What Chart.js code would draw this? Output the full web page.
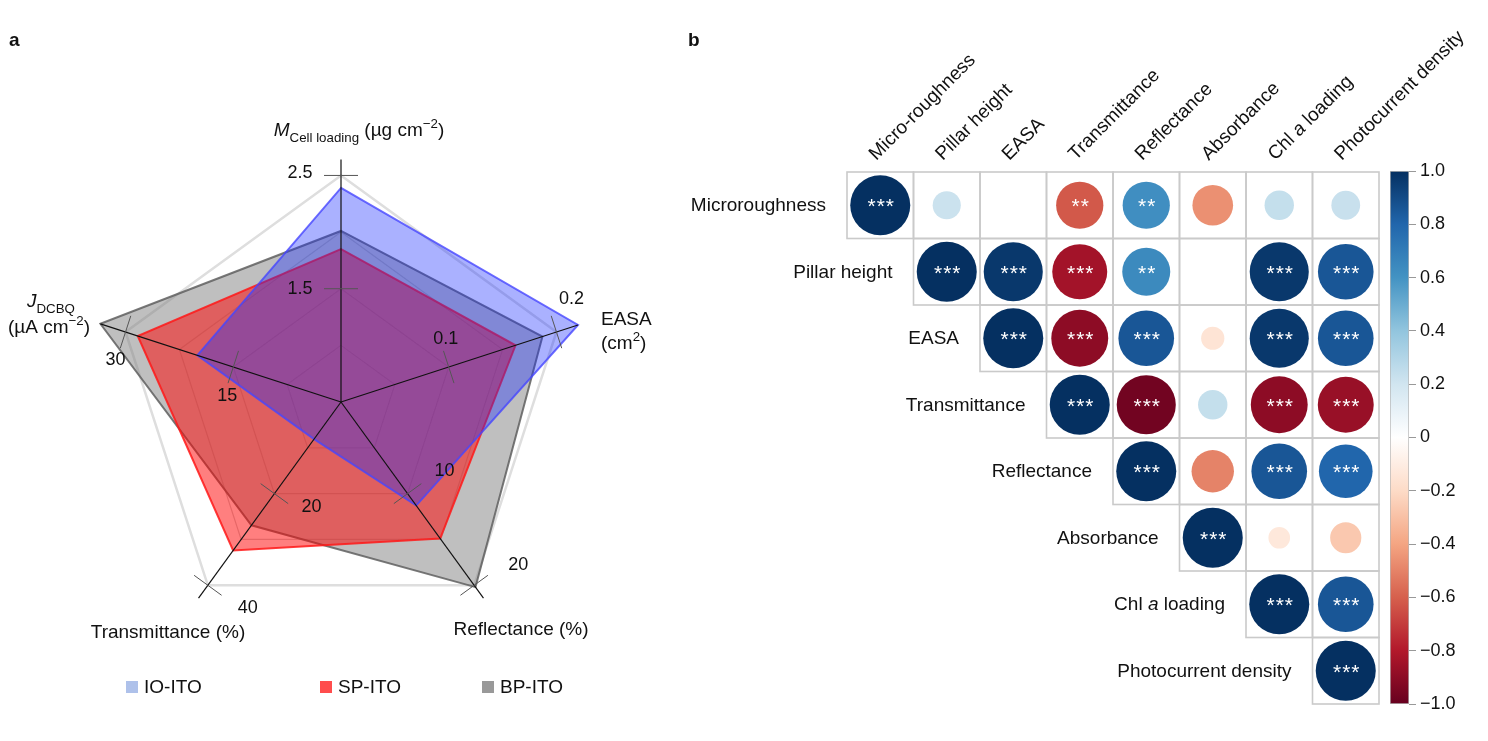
<!DOCTYPE html>
<html>
<head>
<meta charset="utf-8">
<script src="https://cdn.jsdelivr.net/npm/chart.js@4.4.1/dist/chart.umd.min.js"></script>
<style>
  html, body { margin: 0; padding: 0; background: #fff; }
  #wrap { position: relative; width: 1488px; height: 741px; overflow: hidden; }
  canvas { position: absolute; }
</style>
</head>
<body>
<div id="wrap">
  <canvas id="radar" width="680" height="741" style="left:0;top:0"></canvas>
  <canvas id="corr" width="808" height="741" style="left:680px;top:0"></canvas>
  <canvas id="cbar" width="108" height="580" style="left:1380px;top:150px"></canvas>
</div>
<script>
const FONT = '"Liberation Sans", Arial, sans-serif';
const TXT = 19;

// ---- panel a data ----
const radarAxes = ["Mcell", "EASA", "Reflectance", "Transmittance", "JDCBQ"];
const axisMin = [0.5, 0, 0, 0, 0];
const axisMax = [2.5, 0.2, 20, 40, 30];
const axisTicks = [[1.5, 2.5], [0.1, 0.2], [10, 20], [20, 40], [15, 30]];
const seriesNames = ["IO-ITO", "SP-ITO", "BP-ITO"];
const ioIto = [2.39, 0.22, 11.3, 8.1, 20.0];
const spIto = [1.85, 0.162, 14.9, 32.4, 28.3];
const bpIto = [2.01, 0.187, 20.2, 26.9, 33.5];

// ---- panel b data ----
const rowLabels = ["Microroughness", "Pillar height", "EASA", "Transmittance", "Reflectance", "Absorbance", "Chl a loading", "Photocurrent density"];
const colLabels = ["Micro-roughness", "Pillar height", "EASA", "Transmittance", "Reflectance", "Absorbance", "Chl a loading", "Photocurrent density"];
// upper triangle, each row starts at the diagonal
const corrRows = [
  [1, 0.22, 0, -0.62, 0.62, -0.46, 0.24, 0.23],
  [1, 0.97, -0.84, 0.64, 0, 0.97, 0.86],
  [1, -0.9, 0.86, -0.15, 0.97, 0.86],
  [1, -0.97, 0.24, -0.9, -0.87],
  [1, -0.5, 0.86, 0.8],
  [1, -0.13, -0.27],
  [1, 0.86],
  [1]
];
const corrStars = [
  ["***", "", "", "**", "**", "", "", ""],
  ["***", "***", "***", "**", "", "***", "***"],
  ["***", "***", "***", "", "***", "***"],
  ["***", "***", "", "***", "***"],
  ["***", "", "***", "***"],
  ["***", "", ""],
  ["***", "***"],
  ["***"]
];

const rdbuStops = ["#67001F", "#B2182B", "#D6604D", "#F4A582", "#FDDBC7", "#FFFFFF", "#D1E5F0", "#92C5DE", "#4393C3", "#2166AC", "#053061"];
const MAX_R = 30; // radius of a |r| = 1 circle, px

function hexRgb(h) {
  return [1, 3, 5].map(i => parseInt(h.substr(i, 2), 16));
}

function rdbu(v) {
  const t = (Math.max(-1, Math.min(1, v)) + 1) / 2 * 10;
  const i = Math.min(9, Math.floor(t));
  const f = t - i;
  const a = hexRgb(rdbuStops[i]);
  const b = hexRgb(rdbuStops[i + 1]);
  const c = a.map((x, k) => Math.round(x + (b[k] - x) * f));
  return "rgb(" + c.join(",") + ")";
}

// text with italic / sub / sup pieces
function rich(ctx, x, y, segs, size, align) {
  const fontFor = k => (k === "i" ? "italic " : "") + ((k === "sub" || k === "sup") ? size * 0.7 : size) + "px " + FONT;
  let w = 0;
  segs.forEach(s => { ctx.font = fontFor(s[1]); w += ctx.measureText(s[0]).width; });
  let cx = align === "center" ? x - w / 2 : (align === "right" ? x - w : x);
  ctx.textAlign = "left";
  ctx.textBaseline = "alphabetic";
  segs.forEach(s => {
    ctx.font = fontFor(s[1]);
    const dy = s[1] === "sub" ? size * 0.3 : (s[1] === "sup" ? -size * 0.42 : 0);
    ctx.fillText(s[0], cx, y + dy);
    cx += ctx.measureText(s[0]).width;
  });
}

function labelSegs(label) {
  const k = label.indexOf(" a ");
  if (k < 0) return [[label, "n"]];
  return [[label.slice(0, k + 1), "n"], ["a", "i"], [label.slice(k + 2), "n"]];
}

function norm(vals) {
  return vals.map((v, i) => (v - axisMin[i]) / (axisMax[i] - axisMin[i]));
}

// ---------------- panel a : radar ----------------
const tickLabelOffsets = [
  [[-41, 0], [-41, -2]],
  [[-3, -28], [15, -33]],
  [[37, -23], [44, -20]],
  [[37, 13], [40, 23]],
  [[-6, 29], [-10, 28]]
];

const radarDecor = {
  id: "radarDecor",
  afterDatasetsDraw(chart) {
    const ctx = chart.ctx;
    const r = chart.scales.r;
    const sets = [ioIto, spIto, bpIto].map(norm);
    ctx.save();
    radarAxes.forEach((name, i) => {
      const reach = Math.max(1.07, ...sets.map(s => s[i]));
      const c = r.getPointPositionForValue(i, 0);
      const e = r.getPointPositionForValue(i, reach);
      ctx.strokeStyle = "#111";
      ctx.lineWidth = 1.2;
      ctx.beginPath();
      ctx.moveTo(c.x, c.y);
      ctx.lineTo(e.x, e.y);
      ctx.stroke();

      const px = -Math.sin(e.angle);
      const py = Math.cos(e.angle);
      axisTicks[i].forEach((t, j) => {
        const f = (t - axisMin[i]) / (axisMax[i] - axisMin[i]);
        const p = r.getPointPositionForValue(i, f);
        ctx.strokeStyle = "#555";
        ctx.lineWidth = 1;
        ctx.beginPath();
        ctx.moveTo(p.x - px * 17, p.y - py * 17);
        ctx.lineTo(p.x + px * 17, p.y + py * 17);
        ctx.stroke();
        const o = tickLabelOffsets[i][j];
        ctx.fillStyle = "#111";
        ctx.font = "18px " + FONT;
        ctx.textAlign = "center";
        ctx.textBaseline = "middle";
        ctx.fillText(String(t), p.x + o[0], p.y + o[1]);
      });
    });
    ctx.restore();
  },
  afterDraw(chart) {
    const ctx = chart.ctx;
    ctx.save();
    ctx.fillStyle = "#111";
    ctx.font = "bold 19px " + FONT;
    ctx.textAlign = "left";
    ctx.textBaseline = "alphabetic";
    ctx.fillText("a", 9, 46);

    rich(ctx, 359, 136, [["M", "i"], ["Cell loading", "sub"], [" (\u00b5g cm", "n"], ["\u22122", "sup"], [")", "n"]], TXT, "center");
    rich(ctx, 601, 325, [["EASA", "n"]], TXT, "left");
    rich(ctx, 601, 349, [["(cm", "n"], ["2", "sup"], [")", "n"]], TXT, "left");
    rich(ctx, 27, 307, [["J", "i"], ["DCBQ", "sub"]], TXT, "left");
    rich(ctx, 8, 333, [["(\u00b5A cm", "n"], ["\u22122", "sup"], [")", "n"]], TXT, "left");
    rich(ctx, 168, 638, [["Transmittance (%)", "n"]], TXT, "center");
    rich(ctx, 521, 635, [["Reflectance (%)", "n"]], TXT, "center");

    // legend
    const legendX = [126, 320, 482];
    const legendCol = ["#aec1ea", "#ff4d4d", "#999999"];
    seriesNames.forEach((n, k) => {
      ctx.fillStyle = legendCol[k];
      ctx.fillRect(legendX[k], 681, 12, 12);
      ctx.fillStyle = "#111";
      ctx.font = TXT + "px " + FONT;
      ctx.textBaseline = "middle";
      ctx.fillText(n, legendX[k] + 18, 688);
    });
    ctx.restore();
  }
};

new Chart(document.getElementById("radar"), {
  type: "radar",
  data: {
    labels: radarAxes,
    datasets: [
      {
        label: seriesNames[0],
        data: norm(ioIto),
        backgroundColor: "rgba(20,40,255,0.36)",
        borderColor: "rgba(70,70,255,0.8)",
        borderWidth: 2
      },
      {
        label: seriesNames[1],
        data: norm(spIto),
        backgroundColor: "rgba(255,0,0,0.5)",
        borderColor: "rgba(255,25,25,0.85)",
        borderWidth: 2
      },
      {
        label: seriesNames[2],
        data: norm(bpIto),
        backgroundColor: "rgba(128,128,128,0.5)",
        borderColor: "rgba(95,95,95,0.85)",
        borderWidth: 2
      }
    ]
  },
  options: {
    responsive: false,
    animation: false,
    events: [],
    layout: { padding: { left: 85, top: 146, right: 83, bottom: 83 } },
    elements: {
      point: { radius: 0, hoverRadius: 0 },
      line: { tension: 0, fill: true }
    },
    plugins: {
      legend: { display: false },
      tooltip: { enabled: false }
    },
    scales: {
      r: {
        min: 0,
        max: 1.13,
        afterBuildTicks: s => { s.ticks = [0, 0.25, 0.5, 0.75, 1].map(v => ({ value: v })); },
        ticks: { display: false },
        pointLabels: { display: false },
        angleLines: { display: false },
        grid: {
          color: c => (c.tick && c.tick.value === 1) ? "#dedede" : "rgba(165,165,165,0.55)",
          lineWidth: c => (c.tick && c.tick.value === 1) ? 2.5 : 1.2
        }
      }
    }
  },
  plugins: [radarDecor]
});

// ---------------- panel b : correlation matrix ----------------
const corrPoints = [];
corrRows.forEach((row, i) => {
  row.forEach((v, k) => {
    corrPoints.push({ x: i + k, y: i, r: MAX_R * Math.sqrt(Math.abs(v)), v: v, s: corrStars[i][k] });
  });
});
const corrColors = corrPoints.map(p => rdbu(p.v));

function cellSize(chart) {
  const x = chart.scales.x;
  return Math.abs(x.getPixelForValue(1) - x.getPixelForValue(0));
}

const corrDecor = {
  id: "corrDecor",
  beforeDatasetsDraw(chart) {
    const ctx = chart.ctx;
    const x = chart.scales.x, y = chart.scales.y;
    const w = cellSize(chart);
    ctx.save();
    ctx.strokeStyle = "#cacaca";
    ctx.lineWidth = 1.6;
    corrPoints.forEach(p => {
      const cx = x.getPixelForValue(p.x), cy = y.getPixelForValue(p.y);
      ctx.strokeRect(cx - w / 2, cy - w / 2, w, w);
    });
    ctx.restore();
  },
  afterDatasetsDraw(chart) {
    const ctx = chart.ctx;
    const x = chart.scales.x, y = chart.scales.y;
    const w = cellSize(chart);
    ctx.save();
    // stars
    ctx.fillStyle = "#fff";
    ctx.font = "21px " + FONT;
    ctx.textAlign = "center";
    ctx.textBaseline = "alphabetic";
    ctx.letterSpacing = "1px";
    corrPoints.forEach(p => {
      if (!p.s) return;
      ctx.fillText(p.s, x.getPixelForValue(p.x) + 1, y.getPixelForValue(p.y) + 8);
    });
    ctx.letterSpacing = "0px";
    ctx.fillStyle = "#111";
    // row labels
    rowLabels.forEach((lab, i) => {
      const left = x.getPixelForValue(i) - w / 2;
      rich(ctx, left - 21, y.getPixelForValue(i) + 6, labelSegs(lab), TXT, "right");
    });
    // column labels
    const top = y.getPixelForValue(0) - w / 2;
    colLabels.forEach((lab, k) => {
      ctx.save();
      ctx.translate(x.getPixelForValue(k) - 4, top - 11);
      ctx.rotate(-Math.PI / 4);
      rich(ctx, 0, 0, labelSegs(lab), TXT, "left");
      ctx.restore();
    });
    ctx.font = "bold 19px " + FONT;
    ctx.textAlign = "left";
    ctx.fillText("b", 8, 46);
    ctx.restore();
  }
};

new Chart(document.getElementById("corr"), {
  type: "bubble",
  data: {
    datasets: [{
      data: corrPoints,
      backgroundColor: corrColors,
      borderWidth: 0,
      hoverRadius: 0
    }]
  },
  options: {
    responsive: false,
    animation: false,
    events: [],
    layout: { padding: { left: 167, top: 172, right: 109, bottom: 37 } },
    scales: {
      x: { type: "linear", min: -0.5, max: 7.5, display: false },
      y: { type: "linear", min: -0.5, max: 7.5, reverse: true, display: false }
    },
    plugins: {
      legend: { display: false },
      tooltip: { enabled: false }
    }
  },
  plugins: [corrDecor]
});

// ---------------- colour bar ----------------
new Chart(document.getElementById("cbar"), {
  type: "bar",
  data: {
    labels: [""],
    datasets: [{
      data: [[-1, 1]],
      backgroundColor: c => {
        const ch = c.chart;
        const ys = ch.scales.y;
        if (!ys || !ch.chartArea) return "#fff";
        const g = ch.ctx.createLinearGradient(0, ys.getPixelForValue(-1), 0, ys.getPixelForValue(1));
        rdbuStops.forEach((col, k) => g.addColorStop(k / 10, col));
        return g;
      },
      borderColor: "#b5b5b5",
      borderWidth: 1,
      borderSkipped: false,
      barPercentage: 1,
      categoryPercentage: 1
    }]
  },
  options: {
    responsive: false,
    animation: false,
    events: [],
    layout: { padding: { left: 10, right: 9, top: 21, bottom: 26 } },
    plugins: {
      legend: { display: false },
      tooltip: { enabled: false }
    },
    scales: {
      x: { display: false },
      y: {
        position: "right",
        min: -1,
        max: 1,
        afterFit: s => { s.width = 70; },
        border: { display: false },
        grid: { drawOnChartArea: false, tickLength: 7, color: "#999" },
        ticks: {
          stepSize: 0.2,
          padding: 4,
          color: "#111",
          font: { size: 18, family: FONT },
          callback: v => Math.abs(v) < 1e-6 ? "0" : v.toFixed(1).replace("-", "\u2212")
        }
      }
    }
  }
});
</script>
</body>
</html>
